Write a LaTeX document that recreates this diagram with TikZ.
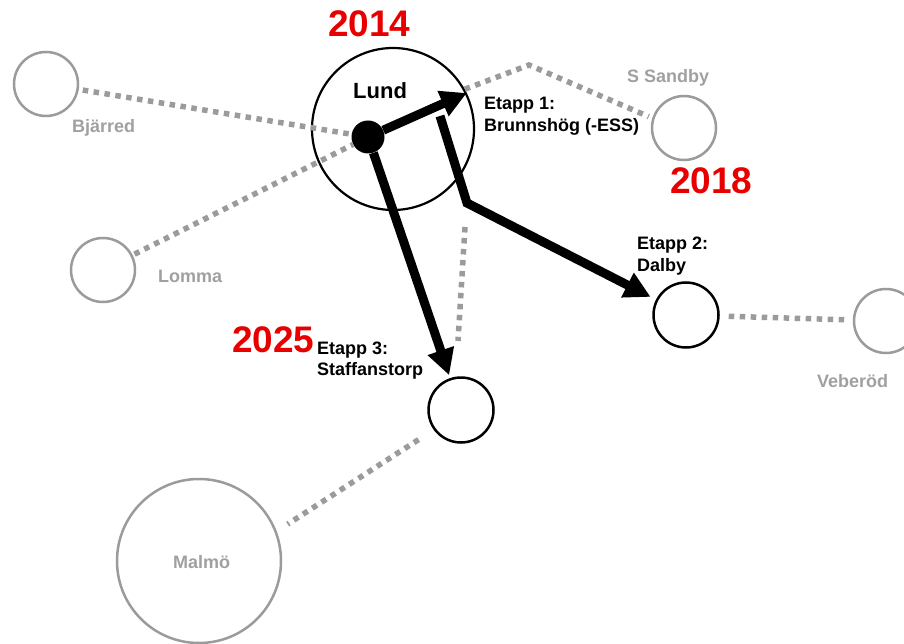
\documentclass[tikz,border=0pt]{standalone}
\usepackage{fontspec}
\setmainfont{Liberation Sans}
\usetikzlibrary{arrows.meta}
\definecolor{dgray}{RGB}{155,155,155}
\definecolor{tgray}{RGB}{160,160,160}
\definecolor{yred}{RGB}{232,0,0}
\begin{document}
\begin{tikzpicture}[x=1pt,y=-1pt,
 town/.style={circle,draw=dgray,line width=2.5pt,minimum size=64pt,inner sep=0pt},
 stopc/.style={circle,draw=black,line width=2.5pt,minimum size=65pt,inner sep=0pt},
 glabel/.style={text=tgray,font=\fontsize{18}{22}\selectfont\bfseries,inner sep=0pt,anchor=base west},
 blabel/.style={text=black,font=\fontsize{18}{22}\selectfont\bfseries,inner sep=0pt,align=left,anchor=north west},
 yearlbl/.style={text=yred,font=\fontsize{37}{40}\selectfont\bfseries,inner sep=0pt,anchor=base west},
 rail/.style={draw=dgray,line width=5.5pt,dash pattern=on 5.5pt off 5.5pt},
 route/.style={draw=black,line width=9pt,line join=miter,-{Triangle[length=26pt,width=26pt]}},
]
\useasboundingbox (0,0) rectangle (904,644);
% circles
\node[town] (bjarred) at (46,84) {};
\node[town] (lomma) at (103,270) {};
\node[town] (sandby) at (684,128) {};
\node[town] (veberod) at (886,321) {};
\node[town,minimum size=164pt] (malmo) at (199,561) {};
\node[stopc] (dalby) at (686,315) {};
\node[stopc] (staff) at (461,410) {};
\node[circle,draw=black,line width=2.2pt,minimum size=162pt,inner sep=0pt] (lund) at (393,129) {};
\node[circle,fill=black,minimum size=33pt,inner sep=0pt] (dot) at (368,137) {};
% helper coordinates
\coordinate (bend) at (529,65);
\coordinate (v1) at (465,227);
\coordinate (v2) at (458,341);
\coordinate (r2start) at (440,116);
\coordinate (r2bend) at (467,203);
% dotted rails
\draw[rail,shorten <=4pt] (bjarred) -- (dot);
\draw[rail,shorten <=2pt] (lomma) -- (dot);
\draw[rail] (lund.29) -- (bend) -- ([xshift=-4pt]sandby.160);
\draw[rail,shorten <=9pt,shorten >=6pt] (dalby) -- (veberod);
\draw[rail,shorten <=18pt,shorten >=13pt] (staff.216) -- (malmo.21);
\draw[rail] (v1) -- (v2);
% routes
\draw[route] (dot) -- (lund.26);
\draw[route,shorten >=6pt] (r2start) -- (r2bend) -- (dalby);
\draw[route,shorten >=3pt] (dot) -- (staff);
% labels
\node[glabel] (tbj) at (72,133) {Bjärred};
\node[glabel] (tlo) at (158,282) {Lomma};
\node[glabel] (tss) at (627,83) {S Sandby};
\node[glabel] (tve) at (817,387) {Veberöd};
\node[glabel] (tma) at (173,568) {Malmö};
\node[text=black,font=\fontsize{22}{26}\selectfont\bfseries,inner sep=0pt,anchor=base west] (tlu) at (353,99) {Lund};
\node[blabel] (e1) at (484,97) {Etapp 1:\\Brunnshög (-ESS)};
\node[blabel] (e2) at (637,237) {Etapp 2:\\Dalby};
\node[blabel,font=\fontsize{18}{21}\selectfont\bfseries] (e3) at (317,342) {Etapp 3:\\Staffanstorp};
\node[yearlbl] (y14) at (328,37) {2014};
\node[yearlbl] (y18) at (670,194) {2018};
\node[yearlbl] (y25) at (232,352) {2025};
\end{tikzpicture}
\end{document}
